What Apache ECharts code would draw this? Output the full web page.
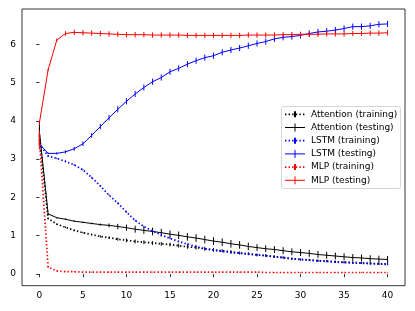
<!DOCTYPE html>
<html><head><meta charset="utf-8">
<script src="https://cdn.jsdelivr.net/npm/echarts@6/dist/echarts.min.js"></script>
<style>html,body{margin:0;padding:0;background:#fff}#c{width:415px;height:311px}</style>
</head><body><div id="c"></div><script>
const epochs = [0,1,2,3,4,5,6,7,8,9,10,11,12,13,14,15,16,17,18,19,20,21,22,23,24,25,26,27,28,29,30,31,32,33,34,35,36,37,38,39,40];
const seriesNames = ['Attention (training)','Attention (testing)','LSTM (training)','LSTM (testing)','MLP (training)','MLP (testing)'];
const xTicks = [0,5,10,15,20,25,30,35,40];
const yTicks = [0,1,2,3,4,5,6];

const attnTrain = [3.62,1.45,1.30,1.22,1.14,1.08,1.03,0.98,0.95,0.91,0.88,0.85,0.83,0.81,0.79,0.77,0.74,0.71,0.69,0.66,0.63,0.61,0.58,0.55,0.53,0.50,0.48,0.45,0.43,0.40,0.38,0.37,0.35,0.34,0.32,0.31,0.30,0.29,0.28,0.27,0.26];
const attnTrainErr = [0.20,0.02,0.02,0.02,0.02,0.02,0.02,0.03,0.03,0.04,0.05,0.05,0.05,0.05,0.05,0.05,0.05,0.05,0.05,0.05,0.05,0.04,0.04,0.04,0.04,0.04,0.04,0.03,0.03,0.03,0.03,0.03,0.03,0.03,0.03,0.03,0.03,0.03,0.03,0.03,0.03];
const attnTest = [3.72,1.57,1.47,1.43,1.38,1.35,1.32,1.29,1.27,1.24,1.21,1.17,1.14,1.11,1.08,1.04,1.01,0.97,0.94,0.90,0.86,0.83,0.79,0.76,0.72,0.69,0.66,0.64,0.61,0.58,0.56,0.54,0.51,0.49,0.47,0.45,0.43,0.42,0.40,0.39,0.38];
const attnTestErr = [0.27,0.02,0.02,0.02,0.02,0.02,0.02,0.03,0.05,0.07,0.08,0.09,0.09,0.10,0.10,0.10,0.10,0.10,0.10,0.10,0.10,0.10,0.10,0.10,0.10,0.09,0.09,0.09,0.09,0.09,0.09,0.09,0.09,0.09,0.09,0.09,0.09,0.09,0.09,0.09,0.09];
const lstmTrain = [3.40,3.08,3.02,2.94,2.85,2.72,2.52,2.30,2.06,1.85,1.62,1.40,1.24,1.12,1.02,0.93,0.85,0.78,0.72,0.66,0.62,0.59,0.56,0.54,0.52,0.50,0.48,0.46,0.43,0.40,0.38,0.36,0.34,0.33,0.31,0.30,0.29,0.28,0.27,0.26,0.25];
const lstmTrainErr = [0.05,0.02,0.02,0.02,0.02,0.02,0.02,0.02,0.02,0.02,0.02,0.02,0.02,0.02,0.02,0.02,0.02,0.02,0.02,0.02,0.02,0.02,0.02,0.02,0.02,0.02,0.02,0.02,0.02,0.02,0.02,0.02,0.02,0.02,0.02,0.02,0.02,0.02,0.02,0.02,0.02];
const lstmTest = [3.40,3.15,3.15,3.19,3.27,3.40,3.62,3.85,4.08,4.30,4.51,4.70,4.87,5.02,5.13,5.28,5.37,5.48,5.57,5.65,5.70,5.79,5.85,5.90,5.96,6.02,6.07,6.14,6.18,6.20,6.23,6.28,6.32,6.34,6.37,6.41,6.46,6.46,6.48,6.52,6.53];
const lstmTestErr = [0.05,0.02,0.03,0.04,0.05,0.06,0.06,0.07,0.07,0.08,0.08,0.08,0.08,0.08,0.08,0.08,0.08,0.08,0.08,0.08,0.08,0.08,0.08,0.08,0.08,0.08,0.08,0.08,0.08,0.08,0.08,0.08,0.08,0.08,0.08,0.08,0.08,0.08,0.08,0.08,0.08];
const mlpTrain = [3.50,0.18,0.08,0.06,0.06,0.05,0.05,0.05,0.05,0.05,0.05,0.05,0.05,0.05,0.05,0.05,0.05,0.05,0.05,0.05,0.05,0.05,0.05,0.05,0.05,0.05,0.04,0.04,0.04,0.04,0.04,0.04,0.04,0.04,0.04,0.04,0.04,0.04,0.04,0.04,0.04];
const mlpTrainErr = [0.25,0.02,0.01,0.01,0.01,0.01,0.01,0.01,0.01,0.01,0.01,0.01,0.01,0.01,0.01,0.01,0.01,0.01,0.01,0.01,0.01,0.01,0.01,0.01,0.01,0.01,0.01,0.01,0.01,0.01,0.01,0.01,0.01,0.01,0.01,0.01,0.01,0.01,0.01,0.01,0.01];
const mlpTest = [3.95,5.33,6.11,6.28,6.31,6.30,6.29,6.28,6.27,6.26,6.25,6.25,6.25,6.24,6.24,6.24,6.24,6.23,6.23,6.23,6.23,6.23,6.23,6.23,6.24,6.24,6.24,6.24,6.25,6.25,6.26,6.26,6.26,6.27,6.27,6.27,6.28,6.28,6.29,6.29,6.30];
const mlpTestErr = [0.05,0.03,0.04,0.06,0.07,0.07,0.07,0.07,0.07,0.07,0.07,0.07,0.07,0.07,0.07,0.07,0.07,0.07,0.07,0.07,0.07,0.07,0.07,0.07,0.07,0.07,0.07,0.07,0.07,0.07,0.07,0.07,0.07,0.07,0.07,0.07,0.07,0.07,0.07,0.07,0.07];

const BLACK='#000000', BLUE='#0000ff', RED='#ff0000';
const DOT=[1.4,2.2];
const FONT='"DejaVu Sans", sans-serif';

const defs = [
  {vals:attnTrain, errs:attnTrainErr, color:BLACK, dotted:true},
  {vals:attnTest, errs:attnTestErr, color:BLACK, dotted:false},
  {vals:lstmTrain, errs:lstmTrainErr, color:BLUE, dotted:true},
  {vals:lstmTest, errs:lstmTestErr, color:BLUE, dotted:false},
  {vals:mlpTrain, errs:mlpTrainErr, color:RED, dotted:true},
  {vals:mlpTest, errs:mlpTestErr, color:RED, dotted:false}
];

const series = [];
defs.forEach((d, k) => {
  series.push({
    name: seriesNames[k], type:'line', data: epochs.map((x,i)=>[x,d.vals[i]]),
    showSymbol:false, symbol:'none', z: 2+k*2, silent:true,
    lineStyle:{color:d.color, width: d.dotted?1.7:1.0, type: d.dotted?DOT:'solid', cap:'butt'}
  });
  series.push({
    type:'custom', z: 3+k*2, silent:true,
    data: epochs.map((x,i)=>[x,d.vals[i],d.errs[i]]),
    renderItem: function(params, api){
      const x=api.value(0), y=api.value(1), e=api.value(2);
      const p1=api.coord([x,y-e]), p2=api.coord([x,y+e]);
      return {type:'line', shape:{x1:p1[0],y1:p1[1],x2:p2[0],y2:p2[1]}, style:{stroke:d.color, lineWidth:1.0}};
    }
  });
});

// legend drawn as graphic elements (absolute coordinates)
const graphics = [{type:'rect', z:100, shape:{x:281.5,y:106.5,width:119,height:82,r:2}, style:{fill:'rgba(255,255,255,0.85)', stroke:'#cccccc', lineWidth:0.8}}];
defs.forEach((d,k)=>{
  const ry = 114.3 + k*13.2;
  graphics.push({type:'line', z:101, shape:{x1:285,y1:ry,x2:305,y2:ry}, style:{stroke:d.color, lineWidth:d.dotted?1.7:1.0, lineDash:d.dotted?DOT:null}});
  graphics.push({type:'line', z:101, shape:{x1:295,y1:ry-(d.dotted?3:4),x2:295,y2:ry+(d.dotted?3:4)}, style:{stroke:d.color, lineWidth:d.dotted?2:1.0}});
  graphics.push({type:'text', z:101, style:{text:seriesNames[k], x:311, y:ry, fill:'#000', fontSize:9, fontFamily:FONT, verticalAlign:'middle', align:'left'}});
});

const chart = echarts.init(document.getElementById('c'), null, {renderer:'canvas'});
chart.setOption({
  animation:false,
  backgroundColor:'#ffffff',
  grid:{left:22, top:9, width:383, height:276.7, show:true, borderColor:'#000', borderWidth:0.8, backgroundColor:'transparent'},
  xAxis:{type:'value', min:-2, max:42,
    axisLine:{show:false}, splitLine:{show:false},
    axisTick:{show:true, length:3.2, lineStyle:{color:'#000', width:0.8}, customValues:xTicks},
    axisLabel:{color:'#000', fontSize:9, fontFamily:FONT, margin:5, customValues:xTicks}},
  yAxis:{type:'value', min:-0.305, max:6.92,
    axisLine:{show:false}, splitLine:{show:false},
    axisTick:{show:true, length:3.2, lineStyle:{color:'#000', width:0.8}, customValues:yTicks},
    axisLabel:{color:'#000', fontSize:9, fontFamily:FONT, margin:6, customValues:yTicks}},
  series: series,
  graphic: graphics
});
</script></body></html>
